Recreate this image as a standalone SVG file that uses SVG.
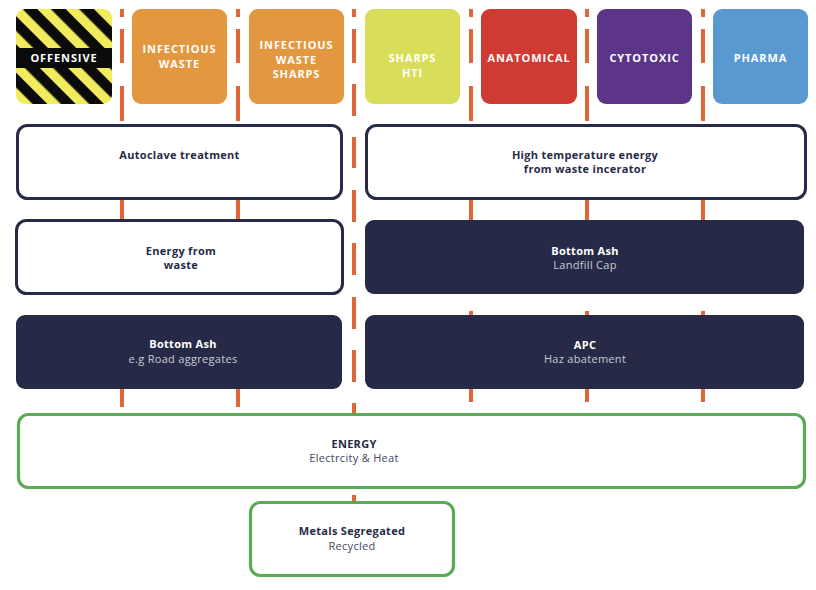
<svg xmlns="http://www.w3.org/2000/svg" width="816" height="590" viewBox="0 0 816 590">
<style>
.lbl{font-family:"Open Sans","Liberation Sans",sans-serif;font-weight:700;font-size:11px;fill:#ffffff;text-anchor:middle;letter-spacing:0.9px}
.t{font-family:"Open Sans","Liberation Sans",sans-serif;font-weight:700;font-size:11px;fill:#262a47;text-anchor:middle;letter-spacing:0.3px}
.tw{font-family:"Open Sans","Liberation Sans",sans-serif;font-weight:700;font-size:11px;fill:#ffffff;text-anchor:middle;letter-spacing:0.3px}
.sw{font-family:"Open Sans","Liberation Sans",sans-serif;font-weight:400;font-size:11px;fill:#c9cbd6;text-anchor:middle;letter-spacing:0.3px}
.sd{font-family:"Open Sans","Liberation Sans",sans-serif;font-weight:400;font-size:11px;fill:#44475f;text-anchor:middle;letter-spacing:0.3px}
.ol{fill:#ffffff;stroke:#262a47;stroke-width:3}
.fill{fill:#262a47}
.gr{fill:#ffffff;stroke:#5aab55;stroke-width:3.2}
.dash{fill:none;stroke:#e0663a;stroke-width:4}
</style>
<defs>
<pattern id="stripes" patternUnits="userSpaceOnUse" width="20" height="20" patternTransform="rotate(-45)">
<rect x="0" y="0" width="20" height="20" fill="#0b0b0b"/>
<rect x="0" y="0" width="9.5" height="20" fill="#f0ec5c"/>
</pattern>
<clipPath id="offclip"><rect x="16" y="9" width="96" height="95" rx="9"/></clipPath>
</defs>
<rect width="816" height="590" fill="#ffffff"/>
<g id="connectors">
<path class="dash" d="M122 9V17M122 29V63M122 86V121M122 200V219M122 389V407"/>
<path class="dash" d="M238 9V17M238 29V63M238 86V121M238 200V219M238 389V407"/>
<path class="dash" d="M354 9V17M354 29V63M354 84V116M354 137V168M354 190V222M354 243V275M354 297V329M354 350V382M354 403V413M354 495V501"/>
<path class="dash" d="M471 9V17M471 29V63M471 86V121M471 200V220M471 311V315M471 389V402"/>
<path class="dash" d="M587 9V17M587 29V63M587 86V121M587 200V220M587 311V315M587 389V402"/>
<path class="dash" d="M703 9V17M703 29V63M703 86V121M703 200V220M703 311V315M703 389V402"/>
</g>
<g id="offensive">
<g clip-path="url(#offclip)">
<rect x="16" y="9" width="96" height="95" fill="url(#stripes)"/>
<rect x="16" y="48" width="96" height="20" fill="#0b0b0b"/>
</g>
<text class="lbl" x="64" y="62">OFFENSIVE</text>
</g>
<g id="infectious-waste">
<rect x="132" y="9" width="95" height="95" rx="9" fill="#e3983f"/>
<text class="lbl" x="179.5" y="53">INFECTIOUS</text>
<text class="lbl" x="179.5" y="68">WASTE</text>
</g>
<g id="infectious-waste-sharps">
<rect x="249" y="9" width="95" height="95" rx="9" fill="#e3983f"/>
<text class="lbl" x="296.5" y="49">INFECTIOUS</text>
<text class="lbl" x="296.5" y="63.5">WASTE</text>
<text class="lbl" x="296.5" y="78">SHARPS</text>
</g>
<g id="sharps-hti">
<rect x="365" y="9" width="95" height="95" rx="9" fill="#d8de5a"/>
<text class="lbl" x="412.5" y="62">SHARPS</text>
<text class="lbl" x="412.5" y="76.5">HTI</text>
</g>
<g id="anatomical">
<rect x="481" y="9" width="96" height="95" rx="9" fill="#cf3b32"/>
<text class="lbl" x="529" y="62">ANATOMICAL</text>
</g>
<g id="cytotoxic">
<rect x="597" y="9" width="95" height="95" rx="9" fill="#5c3589"/>
<text class="lbl" x="644.5" y="62">CYTOTOXIC</text>
</g>
<g id="pharma">
<rect x="713" y="9" width="95" height="95" rx="9" fill="#5899d1"/>
<text class="lbl" x="760.5" y="62">PHARMA</text>
</g>
<g id="autoclave">
<rect class="ol" x="17.5" y="125.5" width="324" height="73" rx="10"/>
<text class="t" x="179.5" y="159">Autoclave treatment</text>
</g>
<g id="high-temp">
<rect class="ol" x="366.5" y="125.5" width="439" height="73" rx="10"/>
<text class="t" x="585" y="159">High temperature energy</text>
<text class="t" x="585" y="173">from waste incerator</text>
</g>
<g id="energy-from-waste">
<rect class="ol" x="16.5" y="220.5" width="326" height="73" rx="10"/>
<text class="t" x="181" y="255">Energy from</text>
<text class="t" x="181" y="269">waste</text>
</g>
<g id="bottom-ash-landfill">
<rect class="fill" x="365" y="220" width="439" height="74" rx="9"/>
<text class="tw" x="585" y="255">Bottom Ash</text>
<text class="sw" x="585" y="269">Landfill Cap</text>
</g>
<g id="bottom-ash-road">
<rect class="fill" x="16" y="315" width="326" height="74" rx="9"/>
<text class="tw" x="183" y="348">Bottom Ash</text>
<text class="sw" x="183" y="363">e.g Road aggregates</text>
</g>
<g id="apc">
<rect class="fill" x="365" y="315" width="439" height="74" rx="9"/>
<text class="tw" x="585" y="349">APC</text>
<text class="sw" x="585" y="363">Haz abatement</text>
</g>
<g id="energy">
<rect class="gr" x="18.5" y="414.5" width="786" height="73" rx="10"/>
<text class="t" x="354" y="448">ENERGY</text>
<text class="sd" x="354" y="462">Electrcity &amp; Heat</text>
</g>
<g id="metals">
<rect class="gr" x="250.5" y="502.5" width="203" height="73" rx="10"/>
<text class="t" x="352" y="535">Metals Segregated</text>
<text class="sd" x="352" y="550">Recycled</text>
</g>
</svg>
